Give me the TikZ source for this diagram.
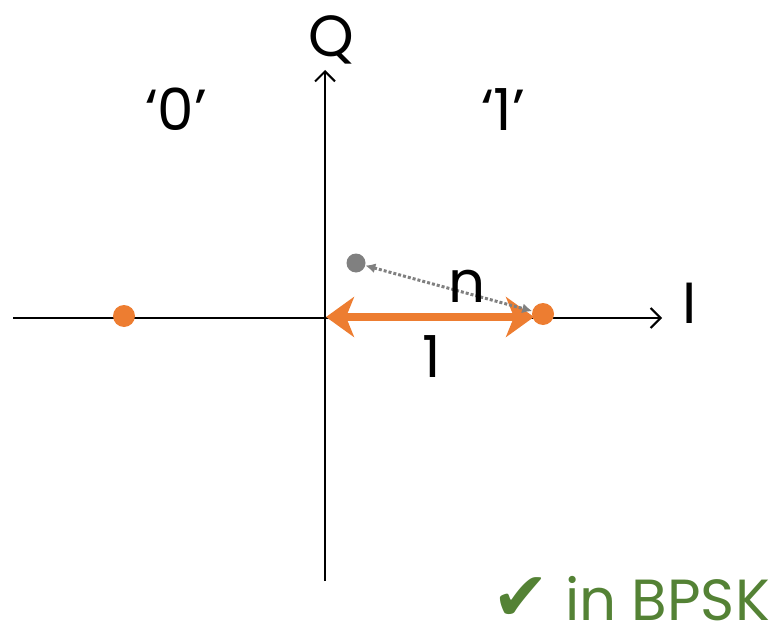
\documentclass[tikz,border=0pt]{standalone}
\usepackage{fontspec}
\setmainfont{Poppins}
\newfontfamily\symfont{DejaVu Sans}
\usetikzlibrary{arrows.meta}
\definecolor{orng}{HTML}{ED7D31}
\definecolor{grn}{HTML}{548235}
\definecolor{gry}{HTML}{808080}
\begin{document}
\begin{tikzpicture}[x=1pt,y=-1pt,
  axis/.style={line width=2pt,-{Straight Barb[length=10pt,width=20pt,line width=2pt]}},
  lbl/.style={font=\fontsize{58}{58}\selectfont,inner sep=0pt,anchor=base},
  dot/.style={circle,inner sep=0pt,minimum size=#1}]
\useasboundingbox (0,0) rectangle (774,634);
\coordinate (xl) at (13,318);
\coordinate (xr) at (662,318);
\coordinate (yb) at (325,581);
\coordinate (yt) at (325,70);
\draw[axis] (xl) -- (xr);
\draw[axis] (yb) -- (yt);
\node[lbl] (Q) at (331,57) {Q};
\node[lbl] (I) at (690,323) {I};
\node[lbl] (z) at (176,130) {‘0’};
\node[lbl] (o) at (503,130) {‘1’};
\node[dot=22pt,fill=orng] (p0) at (124,316) {};
\node[dot=22pt,fill=orng] (p1) at (543,314) {};
\node[dot=19pt,fill=gry] (g) at (356,263) {};
\coordinate (o0) at (326,317);
\coordinate (o1) at (534,317);
\draw[orng,line width=8pt,{Stealth[length=28pt,width=40pt,inset=8pt]}-{Stealth[length=28pt,width=40pt,inset=8pt]}] (o0) -- (o1);
\draw[gry,line width=3pt,dotted,{Latex[length=10pt,width=10pt]}-{Latex[length=10pt,width=10pt]}] (g) -- (p1);
\node[lbl] (n) at (467,302) {n};
\node[lbl] (one) at (432,377) {1};
\node[lbl,text=grn,anchor=base east] (b) at (770,620) {{\symfont\fontsize{68}{68}\selectfont ✔} in BPSK};
\end{tikzpicture}
\end{document}
